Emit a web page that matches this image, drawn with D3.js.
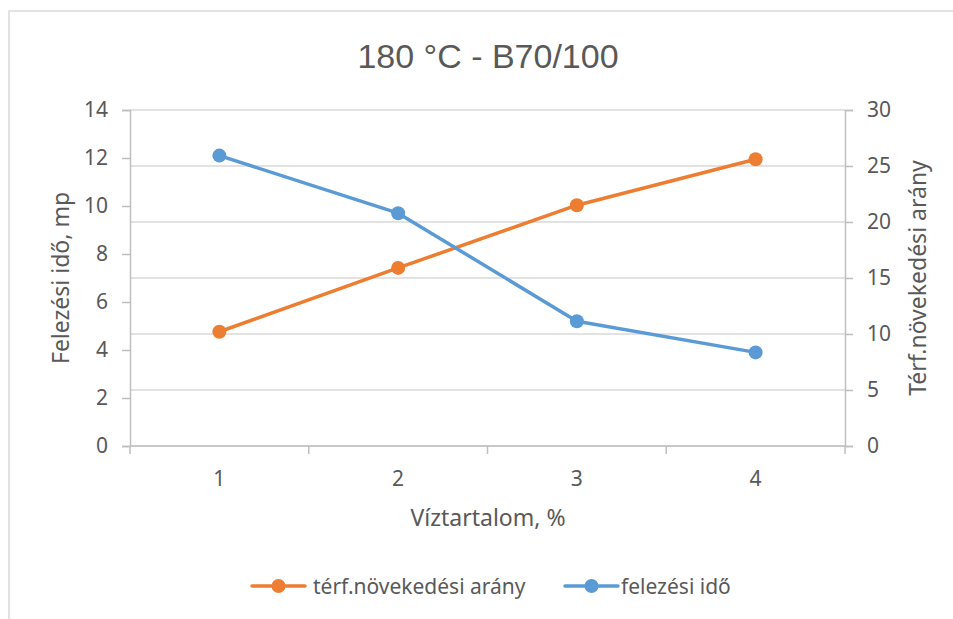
<!DOCTYPE html>
<html>
<head>
<meta charset="utf-8">
<script src="https://cdn.jsdelivr.net/npm/d3@7"></script>
<style>
  html, body { margin: 0; padding: 0; background: #fff; }
  svg { display: block; }
  text { fill: #595959; }
</style>
</head>
<body>
<svg id="chart" width="953" height="619"></svg>
<script>
// Water content categories (x axis)
const categories = ["1", "2", "3", "4"];
// Half-life, seconds (left axis)
const felezesiIdo = [12.1, 9.7, 5.2, 3.9];
// Volume increase ratio (right axis)
const terfNovekedes = [10.2, 15.9, 21.5, 25.6];
const leftTicks = [0, 2, 4, 6, 8, 10, 12, 14];
const rightTicks = [0, 5, 10, 15, 20, 25, 30];

const ORANGE = "#ED7D31", BLUE = "#5B9BD5";
const mainFont = "'Noto Sans', 'Open Sans', sans-serif";
const titleFont = "'Liberation Sans Narrow', 'Arial Narrow', sans-serif";

const svg = d3.select("#chart");
const m = { left: 130, right: 845, top: 110, bottom: 446 };

// Chart frame
svg.append("rect")
  .attr("x", 9).attr("y", 11).attr("width", 960).attr("height", 620)
  .attr("fill", "none").attr("stroke", "#d9d9d9").attr("stroke-width", 1.5);

const x = d3.scaleBand().domain(categories).range([m.left, m.right]);
const yL = d3.scaleLinear().domain([0, 14]).range([m.bottom, m.top]);
const yR = d3.scaleLinear().domain([0, 30]).range([m.bottom, m.top]);

// Horizontal gridlines follow the right axis
svg.append("g").selectAll("line").data(rightTicks).join("line")
  .attr("x1", m.left).attr("x2", m.right)
  .attr("y1", d => yR(d)).attr("y2", d => yR(d))
  .attr("stroke", "#d9d9d9").attr("stroke-width", 1.5);

// Left axis
const gL = svg.append("g").attr("transform", `translate(${m.left},0)`)
  .call(d3.axisLeft(yL).tickValues(leftTicks).tickSize(8).tickPadding(14));
gL.select(".domain").attr("stroke", "#bfbfbf").attr("stroke-width", 1.5);
gL.selectAll(".tick line").attr("stroke", "#bfbfbf").attr("stroke-width", 1.5);
gL.selectAll(".tick text").style("font-family", mainFont).style("font-size", "21px").attr("fill", "#595959");

// Right axis
const gR = svg.append("g").attr("transform", `translate(${m.right},0)`)
  .call(d3.axisRight(yR).tickValues(rightTicks).tickSize(8).tickPadding(14));
gR.select(".domain").attr("stroke", "#bfbfbf").attr("stroke-width", 1.5);
gR.selectAll(".tick line").attr("stroke", "#bfbfbf").attr("stroke-width", 1.5);
gR.selectAll(".tick text").style("font-family", mainFont).style("font-size", "21px").attr("fill", "#595959");

// Bottom axis: line with tick marks at category boundaries
const gB = svg.append("g").attr("transform", `translate(0,${m.bottom})`);
gB.append("line").attr("x1", m.left).attr("x2", m.right)
  .attr("stroke", "#bfbfbf").attr("stroke-width", 1.5);
const bounds = categories.map(c => x(c)).concat([x(categories[categories.length - 1]) + x.bandwidth()]);
gB.selectAll("line.tk").data(bounds).join("line").attr("class", "tk")
  .attr("x1", d => d).attr("x2", d => d).attr("y1", 0).attr("y2", 8)
  .attr("stroke", "#bfbfbf").attr("stroke-width", 1.5);
gB.selectAll("text").data(categories).join("text")
  .attr("x", d => x(d) + x.bandwidth() / 2).attr("y", 40)
  .attr("text-anchor", "middle")
  .style("font-family", mainFont).style("font-size", "21px")
  .text(d => d);

// Titles
svg.append("text").attr("x", 488).attr("y", 68).attr("text-anchor", "middle")
  .style("font-family", titleFont).style("font-size", "34px").text("180 °C - B70/100");
svg.append("text").attr("x", 488).attr("y", 526).attr("text-anchor", "middle")
  .style("font-family", mainFont).style("font-size", "23px").text("Víztartalom, %");
svg.append("text").attr("transform", `translate(69,278) rotate(-90)`).attr("text-anchor", "middle")
  .style("font-family", mainFont).style("font-size", "23px").text("Felezési idő, mp");
svg.append("text").attr("transform", `translate(926,278) rotate(-90)`).attr("text-anchor", "middle")
  .style("font-family", mainFont).style("font-size", "23px").text("Térf.növekedési arány");

// Series
const cx = d => x(d) + x.bandwidth() / 2;
const series = [
  { name: "térf.növekedési arány", values: terfNovekedes, y: yR, color: ORANGE },
  { name: "felezési idő", values: felezesiIdo, y: yL, color: BLUE }
];
series.forEach(s => {
  const pts = categories.map((c, i) => [cx(c), s.y(s.values[i])]);
  svg.append("path").attr("d", d3.line()(pts))
    .attr("fill", "none").attr("stroke", s.color).attr("stroke-width", 3.5)
    .attr("stroke-linejoin", "round");
  svg.append("g").selectAll("circle").data(pts).join("circle")
    .attr("cx", d => d[0]).attr("cy", d => d[1]).attr("r", 7)
    .attr("fill", s.color);
});

// Legend
const legendX = [252, 565];
series.forEach((s, i) => {
  const g = svg.append("g").attr("transform", `translate(${legendX[i]},586)`);
  g.append("line").attr("x1", 0).attr("x2", 53).attr("stroke", s.color).attr("stroke-width", 3.5)
    .attr("stroke-linecap", "round");
  g.append("circle").attr("cx", 26.5).attr("r", 7).attr("fill", s.color);
  g.append("text").attr("x", i === 0 ? 61 : 56).attr("y", 8)
    .style("font-family", mainFont).style("font-size", "21px").text(s.name);
});
</script>
</body>
</html>
